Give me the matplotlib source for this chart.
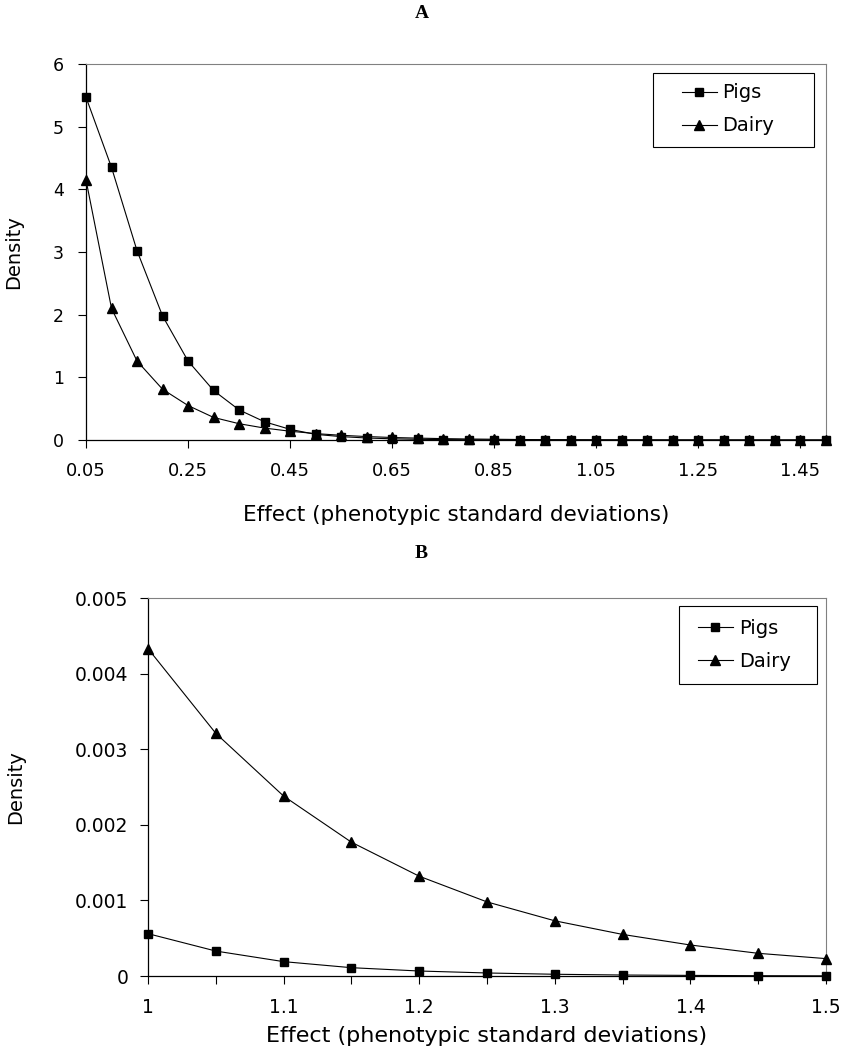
import numpy as np
import matplotlib
matplotlib.use('Agg')
import matplotlib.pyplot as plt
from matplotlib.patches import Rectangle

# panel A: effect sizes 0.05 .. 1.5
effect_a = [0.05, 0.10, 0.15, 0.20, 0.25, 0.30, 0.35, 0.40, 0.45, 0.50,
            0.55, 0.60, 0.65, 0.70, 0.75, 0.80, 0.85, 0.90, 0.95, 1.00,
            1.05, 1.10, 1.15, 1.20, 1.25, 1.30, 1.35, 1.40, 1.45, 1.50]
pigs_a = [5.47, 4.35, 3.02, 1.98, 1.26, 0.79, 0.48, 0.29, 0.17, 0.09,
          0.054, 0.032, 0.019, 0.011, 0.0068, 0.0041, 0.0025, 0.0015, 0.00092, 0.00056,
          0.00033, 0.00019, 0.00011, 0.000066, 0.00004, 0.000023, 0.000013, 0.000008, 0.000004, 0.000002]
dairy_a = [4.15, 2.10, 1.26, 0.81, 0.55, 0.36, 0.26, 0.19, 0.14, 0.102,
           0.075, 0.055, 0.040, 0.030, 0.022, 0.016, 0.012, 0.0079, 0.0058, 0.00433,
           0.00321, 0.00238, 0.00177, 0.00132, 0.00098, 0.00073, 0.00055, 0.00041, 0.00030, 0.00023]

# panel B: zoom on the tail 1.0 .. 1.5
effect_b = [1.00, 1.05, 1.10, 1.15, 1.20, 1.25, 1.30, 1.35, 1.40, 1.45, 1.50]
pigs_b = [0.00056, 0.00033, 0.00019, 0.00011, 0.000066, 0.00004, 0.000023,
          0.000013, 0.000008, 0.000004, 0.000002]
dairy_b = [0.00433, 0.00321, 0.00238, 0.00177, 0.00132, 0.00098, 0.00073,
           0.00055, 0.00041, 0.00030, 0.00023]

xlabel = 'Effect (phenotypic standard deviations)'

plt.rcParams['font.family'] = ['DejaVu Sans']

fig = plt.figure(figsize=(8.43, 10.46), dpi=100)
W, H = 843.0, 1046.0


def style_axes(ax):
    for s in ['top', 'right']:
        ax.spines[s].set_color('#808080')
        ax.spines[s].set_linewidth(0.8)
    for s in ['left', 'bottom']:
        ax.spines[s].set_color('black')
        ax.spines[s].set_linewidth(0.9)
    ax.tick_params(which='both', direction='out', length=6, width=0.8, color='black')


def draw(ax, x, pigs, dairy, leg_x, leg_y, box):
    ax.plot(x, pigs, color='black', lw=0.8, marker='s', ms=6, mfc='black', mec='black',
            clip_on=False, zorder=3, label='Pigs')
    ax.plot(x, dairy, color='black', lw=0.8, marker='^', ms=7.5, mfc='black', mec='black',
            clip_on=False, zorder=3, label='Dairy')
    # legend without its own frame, box drawn like the excel one
    ax.legend(loc='center left', bbox_to_anchor=(leg_x, leg_y), fontsize=14,
              frameon=False, handlelength=1.8, handletextpad=0.3,
              borderaxespad=0, borderpad=0, labelspacing=0.72)
    x0, y0, x1, y1 = box
    ax.add_patch(Rectangle((x0, y0), x1 - x0, y1 - y0, transform=ax.transAxes,
                           fill=False, edgecolor='black', lw=0.8, clip_on=False, zorder=4))


# ---- panel A
axa = fig.add_axes([86 / W, 1 - 440 / H, 740 / W, 376 / H])
draw(axa, effect_a, pigs_a, dairy_a, 0.805, 0.879,
     (0.766, 0.779, 0.984, 0.976))
axa.set_xlim(0.05, 1.5)
axa.set_ylim(0, 6)
axa.set_yticks(range(0, 7))
axa.set_xticks(effect_a[::4])
axa.set_xticklabels(['%.2f' % v for v in effect_a[::4]])
axa.tick_params(axis='x', labelsize=13, pad=10)
axa.tick_params(axis='y', labelsize=12.5, pad=10)
style_axes(axa)
axa.set_ylabel('Density', fontsize=14)
axa.yaxis.set_label_coords((23 - 86) / 740, 0.5)
axa.set_xlabel(xlabel, fontsize=15.5)
axa.xaxis.set_label_coords(0.5, (440 - 505) / 376)
fig.text(0.5, 1 - 13 / H, 'A', ha='center', va='center', fontsize=14,
         fontweight='bold', family='Liberation Serif')

# ---- panel B
axb = fig.add_axes([148 / W, 1 - 976 / H, 678 / W, 378 / H])
draw(axb, effect_b, pigs_b, dairy_b, 0.811, 0.876,
     (0.783, 0.772, 0.987, 0.979))
axb.set_xlim(1.0, 1.5)
axb.set_ylim(0, 0.005)
axb.set_yticks([0, 0.001, 0.002, 0.003, 0.004, 0.005])
axb.set_yticklabels(['0', '0.001', '0.002', '0.003', '0.004', '0.005'])
axb.set_xticks(effect_b[::2])
axb.set_xticklabels(['1', '1.1', '1.2', '1.3', '1.4', '1.5'])
axb.set_xticks(effect_b[1::2], minor=True)
axb.tick_params(axis='x', labelsize=13.5, pad=10)
axb.tick_params(axis='y', labelsize=13.5, pad=8)
style_axes(axb)
axb.set_ylabel('Density', fontsize=14)
axb.yaxis.set_label_coords((25 - 148) / 678, 0.5)
axb.set_xlabel(xlabel, fontsize=16)
axb.xaxis.set_label_coords(0.5, (976 - 1026) / 378)
fig.text(0.5, 1 - 553 / H, 'B', ha='center', va='center', fontsize=14,
         fontweight='bold', family='Liberation Serif')

fig.savefig('out.png', dpi=100)
